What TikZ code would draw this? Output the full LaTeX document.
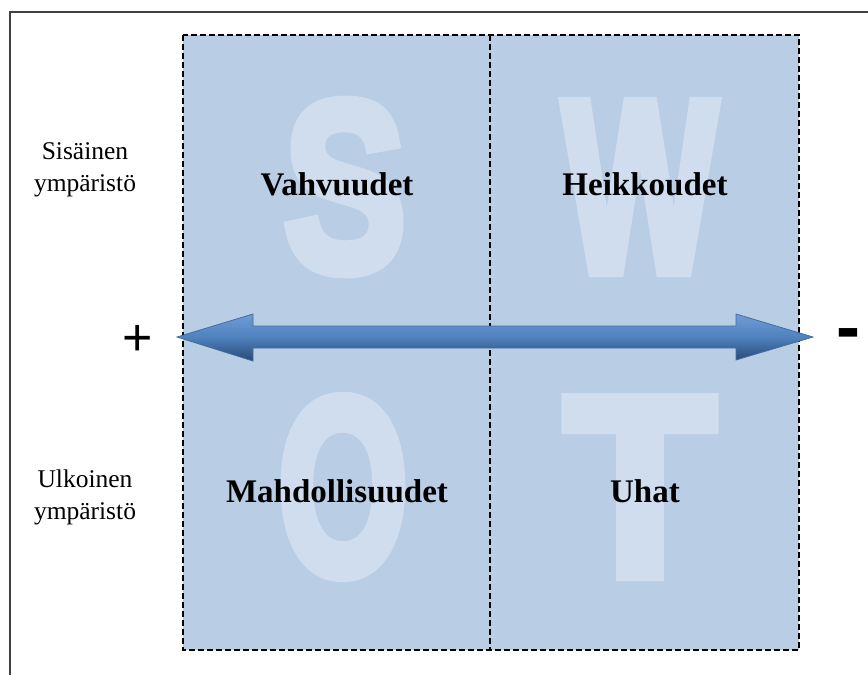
\documentclass[tikz,border=0pt]{standalone}
\usepackage{fontspec}
\setmainfont{Liberation Serif}
\newfontfamily\swotfont[FakeBold=5]{Liberation Sans Bold}
\newfontfamily\signfont{Liberation Sans}
\usepackage{graphicx}
\definecolor{quadfill}{RGB}{185,205,229}
\definecolor{letterfill}{RGB}{207,221,238}
\definecolor{arrowtop}{RGB}{112,156,214}
\definecolor{arrowmid}{RGB}{79,129,189}
\definecolor{arrowbot}{RGB}{38,72,118}
\definecolor{framegray}{RGB}{64,64,64}

\begin{document}
\begin{tikzpicture}[x=1pt,y=-1pt,
  quadborder/.style={draw=black, line width=1.4pt, dash pattern=on 6pt off 3pt},
  bigletter/.style={text=letterfill, inner sep=0pt, font=\swotfont},
  quadlabel/.style={anchor=base, inner sep=0pt, font=\fontsize{33}{40}\selectfont\bfseries},
  sidelabel/.style={anchor=base, inner sep=0pt, font=\fontsize{25.5}{32}\selectfont},
  signlabel/.style={inner sep=0pt, font=\signfont\fontsize{52}{60}\selectfont}]
\useasboundingbox (0,0) rectangle (868,675);

% page frame (left and top edges)
\draw[framegray, line width=1.3pt] (10,675) -- (10,12) -- (868,12);

% quadrant background
\fill[quadfill] (183,35) rectangle (799,650);

% large watermark letters
\node[bigletter] (letterS) at (345,187) {\resizebox{122pt}{168pt}{S}};
\node[bigletter] (letterW) at (640,187) {\resizebox{154pt}{168pt}{W}};
\node[bigletter] (letterO) at (343,487) {\resizebox{130pt}{175pt}{O}};
\node[bigletter] (letterT) at (640,487) {\resizebox{150pt}{175pt}{T}};

% quadrant titles
\node[quadlabel] (strengths) at (337,195) {Vahvuudet};
\node[quadlabel] (weaknesses) at (645,195) {Heikkoudet};
\node[quadlabel] (opportunities) at (337,502) {Mahdollisuudet};
\node[quadlabel] (threats) at (645,502) {Uhat};

% side labels
\node[sidelabel] (internal1) at (85,159) {Sisäinen};
\node[sidelabel] (internal2) at (85,191) {ympäristö};
\node[sidelabel] (external1) at (85,487) {Ulkoinen};
\node[sidelabel] (external2) at (85,519) {ympäristö};

% dashed borders
\draw[quadborder] (183,35) rectangle (799,650);
\draw[black, line width=1.1pt, dash pattern=on 6pt off 3pt] (490,35) -- (490,650);

% double-headed arrow
\coordinate (tipL) at (177,337);
\coordinate (tipR) at (813,337);
\shade[top color=arrowtop, bottom color=arrowbot, middle color=arrowmid]
  (tipL) -- (253,314) -- (253,326) -- (736,326) -- (736,314) -- (tipR)
  -- (736,360) -- (736,348) -- (253,348) -- (253,361) -- cycle;
\draw[arrowmid!85!black, line width=0.8pt]
  (tipL) -- (253,314) -- (253,326) -- (736,326) -- (736,314) -- (tipR)
  -- (736,360) -- (736,348) -- (253,348) -- (253,361) -- cycle;

% plus / minus signs
\node[signlabel] (plus) at (138,340) {+};
\node[signlabel, font=\signfont\bfseries\fontsize{72}{80}\selectfont] (minus) at (848,340) {-};
\end{tikzpicture}
\end{document}
